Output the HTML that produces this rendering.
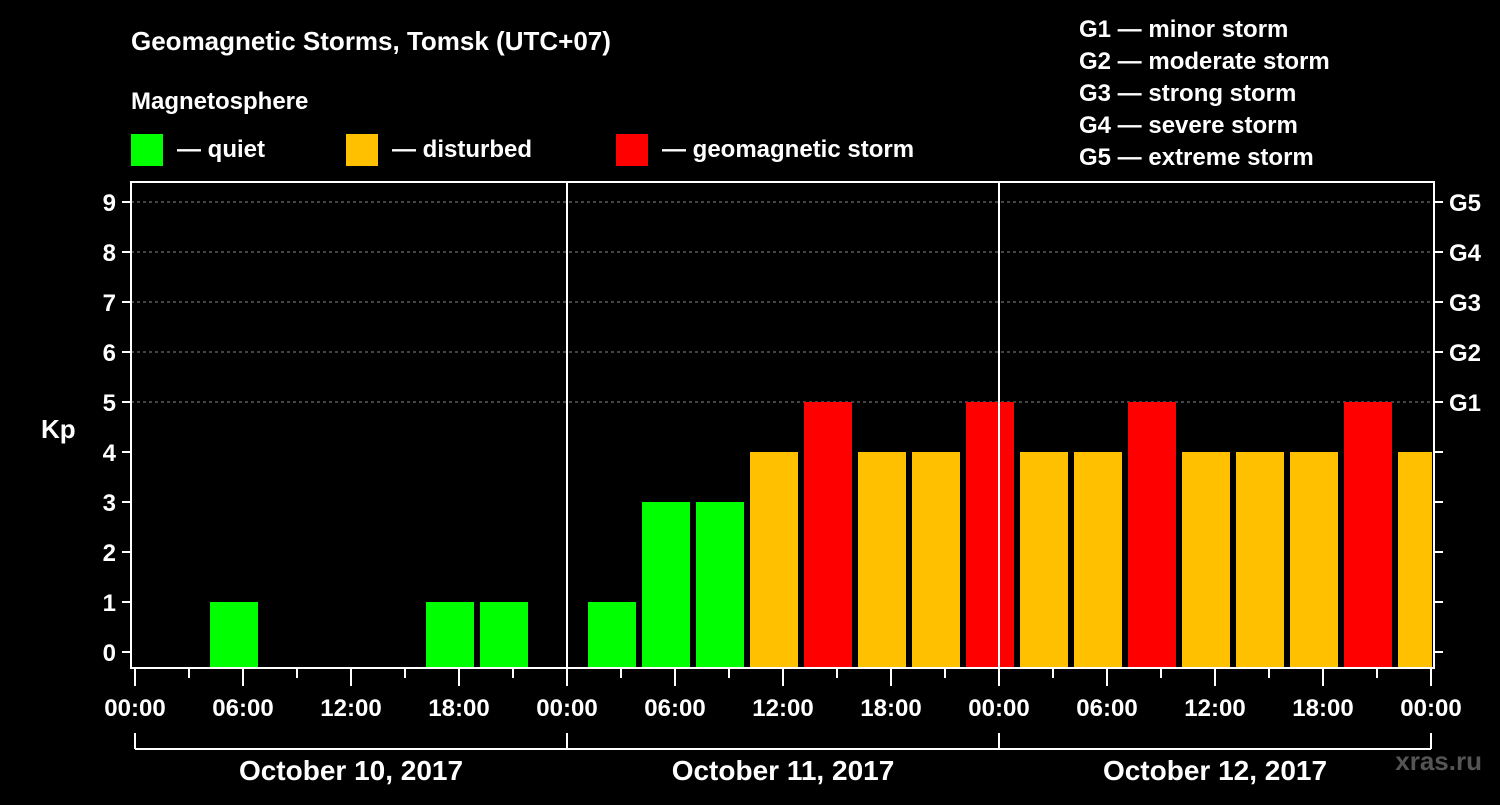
<!DOCTYPE html>
<html><head><meta charset="utf-8"><style>
body{margin:0;background:#000;}
svg text{font-family:"Liberation Sans",sans-serif;font-weight:bold;fill:#fff;}
</style></head><body>
<svg id="c" width="1500" height="800" viewBox="0 0 1500 800">
<rect width="1500" height="800" fill="#000"/>
<text x="131" y="50" font-size="26">Geomagnetic Storms, Tomsk (UTC+07)</text>
<text x="131" y="109" font-size="24">Magnetosphere</text>
<g><rect x="131" y="134" width="32" height="32" fill="#00ff00"/><text x="177" y="157" font-size="24">— quiet</text></g>
<g><rect x="346" y="134" width="32" height="32" fill="#ffc000"/><text x="392" y="157" font-size="24">— disturbed</text></g>
<g><rect x="616" y="134" width="32" height="32" fill="#ff0000"/><text x="662" y="157" font-size="24">— geomagnetic storm</text></g>
<g font-size="24">
<text x="1079" y="37">G1 — minor storm</text>
<text x="1079" y="69">G2 — moderate storm</text>
<text x="1079" y="101">G3 — strong storm</text>
<text x="1079" y="133">G4 — severe storm</text>
<text x="1079" y="165">G5 — extreme storm</text>
</g>
<text x="41" y="438" font-size="26">Kp</text>
<text x="1482" y="770" font-size="26" text-anchor="end" fill="#666" style="fill:#555">xras.ru</text>
<g id="plot"></g>
</svg>
<script>
const kpValues=[0,1,0,0,0,1,1,0, 1,3,3,4,5,4,4,5, 4,4,5,4,4,4,5,4];
const dayLabels=["October 10, 2017","October 11, 2017","October 12, 2017"];
const hourLabels=["00:00","06:00","12:00","18:00"];
const gLabels=["G1","G2","G3","G4","G5"];
const yTicks=[0,1,2,3,4,5,6,7,8,9];
const NS="http://www.w3.org/2000/svg";
const X0=135,DAY=432.0,SLOT=DAY/8,TOP=182,BOT=668;
const xs=h=>X0+h*DAY/24;
const ys=v=>652-v*50;
const plot=document.getElementById('plot');
function mk(t,a,p){const e=document.createElementNS(NS,t);for(const k in a)e.setAttribute(k,a[k]);(p||plot).appendChild(e);return e;}
// grid
yTicks.forEach(v=>{
  if(v>=5){const l=mk('line',{x1:131,x2:1434,y1:ys(v),y2:ys(v),stroke:'#888','stroke-dasharray':'3,3','stroke-width':1});
  
  }
  const t=mk('line',{x1:122,x2:131,y1:ys(v),y2:ys(v),stroke:'#fff','stroke-width':2});
  
  
  const t2=mk('line',{x1:1434,x2:1443,y1:ys(v),y2:ys(v),stroke:'#fff','stroke-width':2});
  
  
  const lb=mk('text',{x:116,y:ys(v)+9,'font-size':24,'text-anchor':'end'});lb.textContent=v;
  
  
});
gLabels.forEach((g,i)=>{const lb=mk('text',{x:1449,y:ys(5+i)+9,'font-size':24});lb.textContent=g;
  
  });
// bars
kpValues.forEach((v,i)=>{
  if(v<=0)return;
  const col=v>=5?'#ff0000':(v>=4?'#ffc000':'#00ff00');
  const x=X0+i*SLOT+21; const w=Math.min(48,1432-x);
  const r=mk('rect',{x:x,y:ys(v),width:w,height:BOT-ys(v),fill:col});
  
  
});
// day separators
[1,2].forEach(d=>{const l=mk('line',{x1:xs(24*d),x2:xs(24*d),y1:TOP,y2:BOT,stroke:'#fff','stroke-width':2});
  
  });
// axes frame
const fr=mk('rect',{x:131,y:TOP,width:1303,height:BOT-TOP,fill:'none',stroke:'#fff','stroke-width':2});


// x ticks
for(let h=0;h<=72;h+=3){
  const major=h%6===0;
  const t=mk('line',{x1:xs(h),x2:xs(h),y1:BOT,y2:major?686:678,stroke:'#fff','stroke-width':2});
  
  
  if(major){const lb=mk('text',{x:xs(h),y:716,'font-size':24,'text-anchor':'middle'});lb.textContent=hourLabels[(h/6)%4];
  
  }
}
// day bracket
const br=mk('line',{x1:xs(0),x2:xs(72),y1:749,y2:749,stroke:'#fff','stroke-width':2});


for(let d=0;d<=3;d++){const l=mk('line',{x1:xs(24*d),x2:xs(24*d),y1:733,y2:749,stroke:'#fff','stroke-width':2});
  
  }
dayLabels.forEach((d,i)=>{const lb=mk('text',{x:xs(24*i+12),y:780,'font-size':28,'text-anchor':'middle'});lb.textContent=d;
  
  });
</script>
</body></html>
